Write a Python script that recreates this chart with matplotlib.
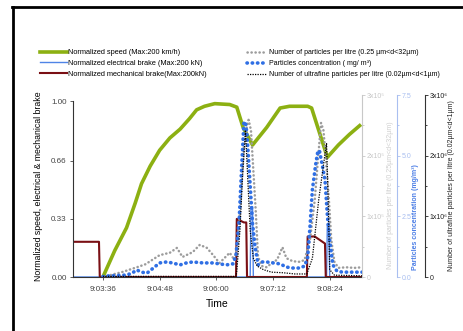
import matplotlib
matplotlib.use("Agg")
import matplotlib.pyplot as plt
from matplotlib.lines import Line2D
from matplotlib.ticker import FixedLocator, FuncFormatter

plt.rcParams['font.family'] = ['Liberation Sans', 'DejaVu Sans']

# Time in seconds after 9:00:00
speed_t = [216, 231, 246, 257, 265, 276, 288, 301, 314, 326, 335, 345, 358,
           377, 386, 394, 406, 424, 441, 453, 476, 481, 491, 501, 515, 529, 542]
speed_v = [0.0, 0.15, 0.28, 0.42, 0.53, 0.63, 0.72, 0.79, 0.84, 0.9, 0.95,
           0.97, 0.985, 0.98, 0.965, 0.85, 0.75, 0.85, 0.96, 0.97, 0.97, 0.96,
           0.82, 0.68, 0.75, 0.81, 0.86]

mech_t = [178, 211, 212, 385, 386, 395, 398, 399, 475, 476, 485, 498, 499, 545]
mech_v = [0.2, 0.2, 0.0, 0.0, 0.33, 0.31, 0.31, 0.0, 0.0, 0.23, 0.23, 0.19, 0.0, 0.0]

elec_t = [178, 403, 404, 406, 407, 500, 501, 503, 504, 545]
elec_v = [0.0, 0.0, 0.4, 0.4, 0.0, 0.0, 0.3, 0.3, 0.0, 0.0]

conc_t = [216, 220, 246, 253, 259, 265, 272, 280, 288, 297, 304, 314, 322, 330,
          343, 356, 364, 373, 381, 385, 389, 392, 395, 397, 399, 402, 406, 409,
          413, 418, 424, 432, 441, 449, 457, 466, 472, 476, 479, 482, 486, 489,
          491, 494, 498, 501, 504, 508, 513, 520, 530, 545]
conc_v = [0.02, 0.04, 0.08, 0.16, 0.29, 0.2, 0.16, 0.37, 0.58, 0.62, 0.58, 0.5,
          0.58, 0.62, 0.58, 0.58, 0.54, 0.5, 0.54, 0.9, 2.35, 4.4, 6.35, 6.4,
          5.85, 4.3, 2.2, 1.3, 0.5, 0.62, 0.62, 0.58, 0.54, 0.41, 0.37, 0.37,
          0.45, 0.8, 2.1, 3.6, 4.6, 5.2, 5.2, 4.7, 4.0, 2.55, 1.5, 0.5, 0.25,
          0.2, 0.2, 0.2]

# particles 0.25-32 um, in units of 1e5 per litre
part_t = [216, 240, 259, 270, 288, 301, 310, 317, 330, 339, 348, 356, 364, 377,
          383, 387, 391, 395, 399, 401, 404, 407, 410, 413, 418, 424, 432, 437,
          444, 449, 457, 466, 472, 479, 485, 489, 493, 496, 499, 503, 506, 510,
          515, 525, 535, 545]
part_v = [0.0, 0.08, 0.16, 0.21, 0.36, 0.4, 0.48, 0.33, 0.41, 0.53, 0.48, 0.36,
          0.23, 0.4, 0.28, 0.53, 1.27, 2.1, 2.5, 2.59, 2.42, 1.76, 1.1, 0.33,
          0.18, 0.16, 0.25, 0.28, 0.49, 0.31, 0.26, 0.25, 0.28, 0.61, 1.27,
          1.93, 2.54, 2.42, 1.98, 1.27, 0.61, 0.25, 0.15, 0.16, 0.15, 0.16]

# ultrafine particles 0.02-1 um, in units of 1e6 per litre
ufp_t = [216, 300, 385, 386, 390, 393, 397, 400, 403, 407, 412, 420, 430, 445,
         460, 475, 482, 490, 497, 500, 502, 504, 510, 545]
ufp_v = [0.01, 0.01, 0.01, 0.1, 0.77, 1.6, 2.42, 1.6, 0.77, 0.31, 0.18, 0.12,
         0.08, 0.07, 0.05, 0.05, 0.31, 1.27, 1.93, 2.2, 1.27, 0.12, 0.03, 0.02]

time_ticks = [216, 288, 360, 432, 504]

C_SPEED = '#8cb012'
C_MECH = '#7a0f14'
C_ELEC = '#4f84e6'
C_CONC = '#2f6fe4'
C_PART = '#9c9c9c'

W, H = 464, 331
fig = plt.figure(figsize=(W / 100, H / 100), dpi=100)

# outer frame (top and left edges)
fig.add_artist(Line2D([12 / W, 1], [1 - 7 / H, 1 - 7 / H], color='black', lw=2.0,
                      transform=fig.transFigure))
fig.add_artist(Line2D([13 / W, 13 / W], [0, 1 - 7 / H], color='black', lw=2.0,
                      transform=fig.transFigure))

L, R, B, T = 73, 362, 277, 95
ax = fig.add_axes([L / W, 1 - B / H, (R - L) / W, (B - T) / H])
ax.patch.set_alpha(0)

ax.plot(speed_t, speed_v, color=C_SPEED, lw=2.6, solid_joinstyle='round',
        label='Normalized speed (Max:200 km/h)')
ax.plot(elec_t, elec_v, color=C_ELEC, lw=1.0,
        label='Normalized electrical brake (Max:200 kN)')
ax.plot(mech_t, mech_v, color=C_MECH, lw=1.5,
        label='Normalized mechanical brake(Max:200kN)')

ax.set_xlim(178, 545)
ax.set_ylim(0, 182 / 176)
ax.spines['top'].set_visible(False)
ax.spines['right'].set_visible(False)
ax.spines['left'].set_bounds(0, 1.0)
for s in ('left', 'bottom'):
    ax.spines[s].set_color('#333333')
    ax.spines[s].set_linewidth(0.8)
ax.set_yticks([0, 0.33, 0.66, 1.0])
ax.set_yticklabels(['0.00', '0.33', '0.66', '1.00'])
ax.xaxis.set_major_locator(FixedLocator(time_ticks))


def fmt_time(t, pos=None):
    t = int(round(t))
    return f"9:{(t // 60):02d}:{t % 60:02d}"


ax.xaxis.set_major_formatter(FuncFormatter(fmt_time))
ax.tick_params(axis='both', labelsize=5.8, colors='#444444', length=2.5,
               width=0.6, pad=2)
ax.tick_params(axis='x', pad=4)
ax.set_xlabel('Time', fontsize=7.5, labelpad=4)
ax.set_ylabel('Normalized speed, electrical & mechanical brake', fontsize=6.3,
              labelpad=3)
ax.yaxis.set_label_coords(-0.105, 0.5)

# particles per litre axis
ax2 = ax.twinx()
ax2.plot(part_t, part_v, color=C_PART, lw=1.8, linestyle=(0, (0.1, 1.5)),
         dash_capstyle='round',
         label='Number of particles per litre (0.25 µm<d<32µm)')
ax2.set_ylim(0, 3)
ax2.set_yticks([0, 1, 2, 3])
ax2.set_yticks([0.5, 1.5, 2.5], minor=True)
ax2.set_yticklabels(['0', '1x10⁵', '2x10⁵', '3x10⁵'])
ax2.tick_params(axis='y', which='both', colors='#c8c8c8', labelsize=5,
                length=2.5, width=0.6, pad=1)
ax2.tick_params(axis='y', which='minor', length=1.5)
for s in ('top', 'left', 'bottom'):
    ax2.spines[s].set_visible(False)
ax2.spines['right'].set_color('#c8c8c8')
ax2.set_ylabel('Number of particles per litre (0.25µm<d<32µm)', fontsize=5,
               color='#cfcfcf')
ax2.yaxis.set_label_coords(1.085, 0.45)

# concentration axis
ax3 = ax.twinx()
ax3.spines['right'].set_position(('axes', (397 - L) / (R - L)))
ax3.plot(conc_t, conc_v, color=C_CONC, lw=2.6, linestyle=(0, (0.1, 1.35)),
         dash_capstyle='round', label='Particles concentration ( mg/ m³)')
ax3.set_ylim(0, 7.5)
ax3.set_yticks([0, 2.5, 5.0, 7.5])
ax3.set_yticks([1.25, 3.75, 6.25], minor=True)
ax3.set_yticklabels(['0.0', '2.5', '5.0', '7.5'])
ax3.tick_params(axis='y', which='both', colors='#a9bff0', labelsize=5,
                length=2.5, width=0.6, pad=1)
ax3.tick_params(axis='y', which='minor', length=1.5)
for s in ('top', 'left', 'bottom'):
    ax3.spines[s].set_visible(False)
ax3.spines['right'].set_color('#a9bff0')
ax3.set_ylabel('Particles concentration (mg/m³)', fontsize=5.0,
               color='#4d7fe6', fontweight='bold')
ax3.yaxis.set_label_coords((412.5 - L) / (R - L), 0.33)

# ultrafine particles axis
ax4 = ax.twinx()
ax4.spines['right'].set_position(('axes', (425 - L) / (R - L)))
ax4.plot(ufp_t, ufp_v, color='black', lw=0.9, linestyle=(0, (1, 1)),
         label='Number of ultrafine particles per litre (0.02µm<d<1µm)')
ax4.set_ylim(0, 3)
ax4.set_yticks([0, 1, 2, 3])
ax4.set_yticks([0.5, 1.5, 2.5], minor=True)
ax4.set_yticklabels(['0', '1x10⁶', '2x10⁶', '3x10⁶'])
ax4.tick_params(axis='y', which='both', colors='#222222', labelsize=5,
                length=2.5, width=0.6, pad=1)
ax4.tick_params(axis='y', which='minor', length=1.5)
for s in ('top', 'left', 'bottom'):
    ax4.spines[s].set_visible(False)
ax4.spines['right'].set_color('#333333')
ax4.set_ylabel('Number of ultrafine particles per litre (0.02µm<d<1µm)',
               fontsize=5, color='#222222')
ax4.yaxis.set_label_coords((448 - L) / (R - L), 0.5)

# legends
h1, l1 = ax.get_legend_handles_labels()
fig.legend(h1, l1, loc='upper left', bbox_to_anchor=(40 / W, 1 - 49 / H),
           bbox_transform=fig.transFigure, frameon=False, fontsize=5.3,
           handlelength=3.6, handletextpad=0.15, labelspacing=0.5,
           borderpad=0, borderaxespad=0)
h2 = ax2.get_legend_handles_labels()[0] + ax3.get_legend_handles_labels()[0] + \
    ax4.get_legend_handles_labels()[0]
l2 = [h.get_label() for h in h2]
fig.legend(h2, l2, loc='upper left', bbox_to_anchor=(247 / W, 1 - 49 / H),
           bbox_transform=fig.transFigure, frameon=False, fontsize=5.0,
           handlelength=2.8, handletextpad=0.3, labelspacing=0.6,
           borderpad=0, borderaxespad=0)

fig.savefig('out.png', dpi=100)
